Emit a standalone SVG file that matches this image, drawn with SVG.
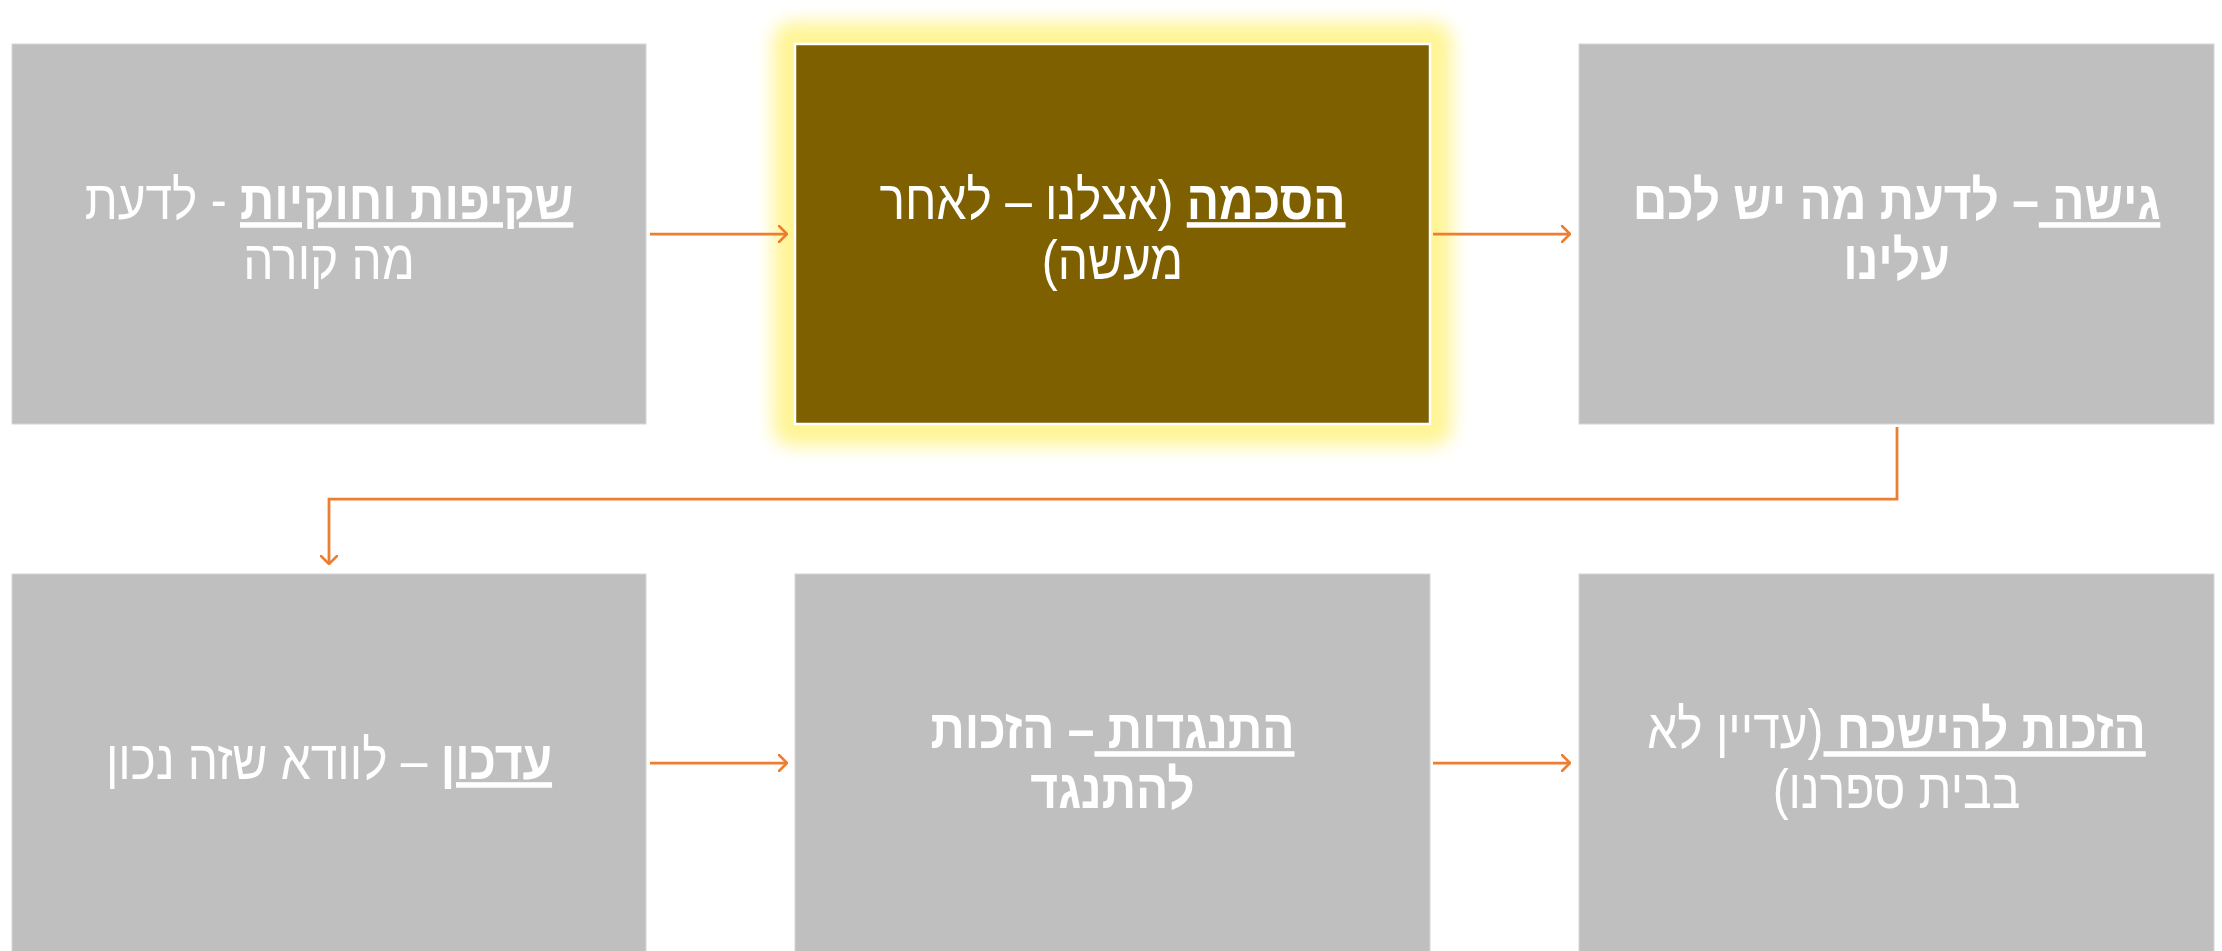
<svg xmlns="http://www.w3.org/2000/svg" width="2222" height="951" viewBox="0 0 2222 951">
  <style>
    .box{fill:#bfbfbf;stroke:#d6d6d6;stroke-width:1}
    .hl{fill:#7f6000;stroke:#ffffff;stroke-width:2.5}
    .halo{fill:#fff27a;opacity:0.8}
    .lbl{font-family:"Liberation Sans","DejaVu Sans",sans-serif;font-size:55px;fill:#ffffff;text-anchor:middle;direction:rtl}
    .b{font-weight:bold}
    .u{text-decoration:underline}
    .conn{fill:none;stroke:#ed7d31;stroke-width:2.75;marker-end:url(#arr)}
  </style>
  <defs>
    <filter id="soft" x="-20%" y="-20%" width="140%" height="140%">
      <feGaussianBlur stdDeviation="9"/>
    </filter>
    <marker id="arr" viewBox="0 0 10 18" refX="9" refY="9" markerWidth="10" markerHeight="18" markerUnits="userSpaceOnUse" orient="auto">
      <path d="M1,1 L9,9 L1,17" fill="none" stroke="#ed7d31" stroke-width="2.5" stroke-linecap="round" stroke-linejoin="round"/>
    </marker>
  </defs>
  <rect width="2222" height="951" fill="#ffffff"/>

  <!-- top row; labels are narrowed horizontally to a condensed look -->
  <g id="node-transparency">
    <rect class="box" x="12" y="44" width="634" height="380"/>
    <text class="lbl" direction="rtl" transform="translate(329 219) scale(0.87 1)"><tspan class="b u">שקיפות וחוקיות</tspan> - לדעת</text>
    <text class="lbl" direction="rtl" transform="translate(329 279) scale(0.87 1)">מה קורה</text>
  </g>

  <g id="node-consent">
    <rect class="halo" x="773" y="22" width="679" height="424" rx="20" filter="url(#soft)"/>
    <rect class="hl" x="795" y="44" width="635" height="380"/>
    <text class="lbl" direction="rtl" transform="translate(1112.5 219) scale(0.87 1)"><tspan class="b u">הסכמה</tspan> (אצלנו – לאחר</text>
    <text class="lbl" direction="rtl" transform="translate(1112.5 279) scale(0.87 1)">מעשה)</text>
  </g>

  <g id="node-access">
    <rect class="box" x="1579" y="44" width="635" height="380"/>
    <text class="lbl b" direction="rtl" transform="translate(1896.5 219) scale(0.87 1)"><tspan class="u">גישה </tspan>– לדעת מה יש לכם</text>
    <text class="lbl b" direction="rtl" transform="translate(1896.5 279) scale(0.87 1)">עלינו</text>
  </g>

  <!-- bottom row -->
  <g id="node-update">
    <rect class="box" x="12" y="574" width="634" height="380"/>
    <text class="lbl" direction="rtl" transform="translate(329 779) scale(0.87 1)"><tspan class="b u">עדכון</tspan> – לוודא שזה נכון</text>
  </g>

  <g id="node-objection">
    <rect class="box" x="795" y="574" width="635" height="380"/>
    <text class="lbl b" direction="rtl" transform="translate(1112.5 748) scale(0.87 1)"><tspan class="u">התנגדות </tspan>– הזכות</text>
    <text class="lbl b" direction="rtl" transform="translate(1112.5 808) scale(0.87 1)">להתנגד</text>
  </g>

  <g id="node-forgotten">
    <rect class="box" x="1579" y="574" width="635" height="380"/>
    <text class="lbl" direction="rtl" transform="translate(1896.5 748) scale(0.87 1)"><tspan class="b u">הזכות להישכח </tspan>(עדיין לא</text>
    <text class="lbl" direction="rtl" transform="translate(1896.5 808) scale(0.87 1)">בבית ספרנו)</text>
  </g>

  <g id="connectors">
    <path class="conn" d="M650,234 H787"/>
    <path class="conn" d="M1433,234 H1570"/>
    <path class="conn" d="M1897,427 V499 H329 V564"/>
    <path class="conn" d="M650,763 H787"/>
    <path class="conn" d="M1433,763 H1570"/>
  </g>
</svg>
